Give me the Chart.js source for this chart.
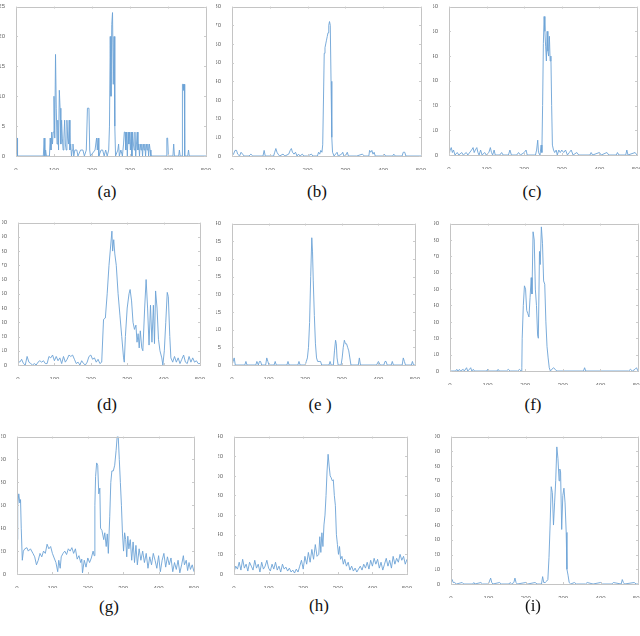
<!DOCTYPE html>
<html>
<head>
<meta charset="utf-8">
<script src="https://cdn.jsdelivr.net/npm/chart.js@4.4.1/dist/chart.umd.min.js"></script>
<style>
  html, body { margin: 0; padding: 0; background: #fff; overflow: hidden; }
  #page { position: relative; width: 640px; height: 636px; }
  .panel { position: absolute; }
  .cap { position: absolute; width: 60px; margin-left: -30px; text-align: center;
         font-family: "Liberation Serif", "DejaVu Serif", serif; font-size: 17px; color: #111; }
</style>
</head>
<body>
<div id="page"></div>
<script>
// Tick settings shared by all panels
const xTicks = [0, 100, 200, 300, 400, 500];

// (a)
const aX = [0,3,4,72,74,76,78,80,88,90,92,94,96,98,100,102,104,106,108,110,112,114,116,118,120,122,124,126,128,130,132,134,136,138,140,142,144,146,148,150,152,155,160,163,170,176,180,185,188,192,194,196,208,212,214,216,218,224,228,232,236,240,244,246,248,250,252,254,256,258,260,262,268,270,272,276,280,283,285,287,289,291,293,295,297,299,301,303,305,307,309,311,313,315,317,319,321,323,325,327,329,331,333,335,337,339,341,343,345,347,349,351,353,355,395,397,399,401,413,415,417,428,430,432,437,438,440,441,443,444,452,454,456,500];
const aY = [3,3,0,0,3,0,1,0,0,3,1,4,2,4,10,3,17,8,2,6,1,11,8,2,6,3,1,3,6,2,1,6,3,2,6,1,2,0,1,2,0,1,1,0,1,1,0,1,8,8,1,0,1,3,1,3,0,1,1,0,1,0,1,5,20,10,22,24,12,20,5,0,1,2,0,1,0,2,4,4,1,4,0,4,2,4,1,4,0,4,2,1,4,0,2,4,1,2,0,2,1,2,0,2,1,2,0,2,1,2,0,2,1,0,0,3,3,0,0,2,0,0,1,0,0,12,12,11,12,0,0,1,0,0];

// (b)
const bX = [0,4,8,12,15,20,24,28,32,45,50,55,82,85,88,110,113,116,119,122,126,135,140,150,154,157,160,164,168,172,176,180,186,190,200,210,214,226,229,232,235,238,240,242,244,246,248,250,252,254,256,258,260,262,264,266,270,278,281,290,293,296,300,305,308,330,345,350,362,364,367,370,373,376,379,400,403,406,425,428,432,450,453,457,460,500];
const bY = [0,1,3,3,1,0,2,1,0,0,1,0,0,3,0,0,2,4,2,1,0,1,0,1,3,4,2,1,2,0,1,0,1,0,0,1,0,0,2,1,3,2,6,30,55,58,60,62,64,66,70,72,70,40,10,2,0,2,0,1,2,0,0,2,0,0,1,0,0,3,2,3,1,2,0,0,1,0,0,1,0,0,2,2,0,0];

// (c)
const cX = [0,3,6,9,12,16,22,26,34,38,46,50,60,64,67,70,74,77,80,84,88,95,99,106,110,113,116,120,123,135,140,144,158,162,166,180,185,190,200,205,208,230,233,236,238,242,245,247,249,251,253,255,257,259,261,263,265,267,269,271,273,275,278,281,285,288,292,296,300,305,310,315,320,325,330,340,345,375,378,382,400,405,420,425,445,448,452,470,473,476,495,500];
const cY = [0,2,3,1,2,0,1,0,1,0,1,0,2,3,1,2,3,1,0,2,0,1,0,1,3,1,0,2,0,0,1,0,0,2,0,0,1,0,1,2,0,0,2,6,1,0,4,1,20,45,56,50,44,38,50,42,40,48,38,40,20,4,2,1,2,0,2,1,2,1,2,0,1,2,0,1,0,0,1,0,1,0,1,0,0,1,0,0,2,0,1,0];

// (d)
const dX = [0,5,10,15,20,25,30,35,40,45,50,55,60,65,70,75,80,85,90,95,100,105,110,115,120,125,130,135,140,145,150,155,160,165,170,175,180,185,190,195,200,205,210,215,220,225,230,235,240,245,250,255,258,260,263,266,270,275,280,285,290,292,295,300,305,308,312,316,320,324,327,330,333,336,340,343,348,352,356,360,364,368,372,375,378,382,386,390,395,398,402,406,410,413,417,420,425,430,435,440,445,450,455,460,465,470,475,480,485,490,495,500];
const dY = [3,2,4,1,0,6,2,1,0,1,0,2,3,2,3,1,1,6,5,7,3,6,3,5,1,6,2,4,7,6,7,4,1,2,0,3,1,0,2,6,7,4,5,2,4,1,2,32,33,50,70,85,94,80,88,78,70,50,35,20,5,2,20,40,50,53,45,30,25,28,16,22,12,24,12,10,40,60,40,14,42,16,42,15,52,40,18,10,5,0,10,30,51,48,20,5,2,6,2,5,1,4,7,2,1,6,2,5,2,3,1,1];

// (e)
const eX = [0,3,6,9,35,38,41,65,68,72,75,78,81,92,95,98,101,115,118,121,150,153,156,180,183,186,200,203,206,209,212,215,218,220,222,225,228,231,234,238,242,245,265,268,271,277,280,283,285,287,290,298,301,304,307,310,313,316,319,322,325,345,348,351,395,400,405,415,418,421,424,435,438,441,465,468,471,474,490,493,496,500];
const eY = [0,1,2,0,0,1,0,0,1,0,1,1,0,0,2,1,0,0,1,0,0,1,0,0,1,0,0,1,2,5,12,25,36,32,24,14,6,2,1,1,1,0,0,1,0,0,4,7,6,2,0,0,2,5,7,6,6,5,4,2,0,0,2,0,0,1,0,0,1,1,0,0,1,0,0,2,1,0,0,1,0,0];

// (f)
const fX = [0,15,18,21,25,28,35,38,44,47,52,55,58,62,65,98,100,102,125,128,131,150,155,160,180,185,189,191,192,195,198,201,204,207,210,213,216,218,221,224,227,230,233,235,238,240,243,246,249,252,255,258,261,264,267,275,280,284,355,358,361,475,480,485,492,496,500];
const fY = [0,0,1,0,1,0,1,0,2,0,1,2,0,1,0,0,1,0,0,1,0,0,1,0,0,1,0,2,20,40,52,50,37,35,33,45,57,47,85,80,50,40,22,20,73,65,88,78,55,53,30,15,8,2,0,2,1,0,0,2,0,0,1,0,1,2,0];

// (g)
const gX = [0,2,5,8,10,12,15,18,22,28,32,38,45,50,55,60,65,70,75,80,85,90,95,100,105,110,115,118,122,125,130,135,140,145,150,155,160,165,170,175,180,183,185,190,195,200,205,210,215,218,220,222,225,228,231,234,236,240,245,248,252,255,258,262,265,268,272,276,280,283,286,289,292,295,298,301,304,307,310,313,316,320,324,328,332,336,340,345,350,355,360,365,370,375,380,385,390,395,400,405,410,415,420,425,430,435,440,445,450,455,460,465,470,473,478,482,486,490,495,500];
const gY = [30,60,70,62,65,40,12,20,22,23,20,22,18,15,8,12,18,15,20,18,26,22,24,18,14,10,2,12,5,15,18,20,17,22,20,23,18,22,13,16,10,13,1,12,6,14,10,14,20,16,60,85,97,95,70,75,40,38,30,36,24,35,18,50,80,90,90,95,108,120,120,100,80,60,35,20,36,30,15,33,22,30,12,28,10,25,8,22,12,20,10,18,5,15,8,18,12,5,16,2,12,18,6,15,8,14,2,10,4,12,1,8,16,8,12,3,10,4,8,2];

// (h)
const hX = [0,5,10,15,20,25,30,35,40,45,50,55,60,65,70,75,80,85,90,95,100,105,110,115,120,125,130,135,140,145,150,155,160,165,170,175,180,185,190,195,200,205,210,215,220,225,230,235,240,245,248,251,254,257,260,263,266,269,272,275,278,281,284,287,290,293,296,299,302,305,308,312,316,320,325,330,335,340,345,350,355,360,365,370,375,380,385,390,395,400,405,410,415,420,425,430,435,440,445,450,455,460,465,470,475,480,485,490,495,500];
const hY = [2,8,5,12,4,15,6,10,3,12,8,4,14,6,10,2,12,5,8,14,6,3,10,5,12,4,8,2,10,5,7,3,6,2,4,1,5,2,8,14,5,18,10,22,12,25,15,30,18,20,38,22,42,28,50,60,80,105,122,110,100,98,95,96,80,70,40,30,20,28,15,18,10,15,8,12,4,8,3,6,2,5,8,4,10,6,12,5,14,8,16,10,15,6,12,4,10,16,8,14,6,18,10,16,12,20,14,18,10,15];

// (i)
const iX = [0,3,6,10,14,30,34,58,61,64,80,84,100,103,106,109,112,130,134,155,158,162,168,171,174,177,200,205,225,230,242,245,248,252,256,259,262,265,268,271,274,277,280,283,286,289,291,293,296,299,302,305,308,310,313,316,320,330,335,360,364,380,400,405,430,434,455,458,461,464,490,495,500];
const iY = [2,3,1,1,0,1,0,0,1,0,1,0,0,2,4,1,0,1,0,0,1,0,1,4,1,0,1,0,1,0,0,5,1,1,2,3,18,40,66,62,40,55,70,93,85,70,78,76,37,60,65,55,35,10,6,1,0,1,0,0,1,0,1,0,0,1,0,3,1,0,1,0,0];

const panels = [
  { id: 'a', xs: aX, ys: aY, yMax: 25,  yStep: 5,  L: 16,  R: 206, T: 5,   B: 156, capX: 107, capY: 182 },
  { id: 'b', xs: bX, ys: bY, yMax: 80,  yStep: 10, L: 232, R: 421, T: 5,   B: 156, capX: 317, capY: 182 },
  { id: 'c', xs: cX, ys: cY, yMax: 60,  yStep: 10, L: 449, R: 637, T: 5,   B: 155, capX: 532, capY: 182 },
  { id: 'd', xs: dX, ys: dY, yMax: 100, yStep: 10, L: 18,  R: 200, T: 221, B: 365, capX: 107, capY: 395 },
  { id: 'e ', xs: eX, ys: eY, yMax: 40, yStep: 5,  L: 232, R: 415, T: 222, B: 365, capX: 320, capY: 395 },
  { id: 'f', xs: fX, ys: fY, yMax: 90,  yStep: 10, L: 450, R: 638, T: 222, B: 371, capX: 533, capY: 395 },
  { id: 'g', xs: gX, ys: gY, yMax: 120, yStep: 20, L: 17,  R: 194, T: 435, B: 574, capX: 109, capY: 597 },
  { id: 'h', xs: hX, ys: hY, yMax: 140, yStep: 20, L: 234, R: 407, T: 435, B: 574, capX: 319, capY: 596 },
  { id: 'i', xs: iX, ys: iY, yMax: 100, yStep: 10, L: 451, R: 638, T: 435, B: 584, capX: 533, capY: 596 }
];

const LEFT_W = 16, TOP_P = 5, RIGHT_P = 8, BOTTOM_H = 14;

// MATLAB style box with inward ticks on all four sides
const framePlugin = {
  id: 'frame',
  afterDraw(chart) {
    const { ctx, chartArea: a, scales } = chart;
    ctx.save();
    ctx.strokeStyle = '#c4c4c4';
    ctx.lineWidth = 1;
    ctx.strokeRect(Math.round(a.left) + 0.5, Math.round(a.top) + 0.5,
                   Math.round(a.right - a.left), Math.round(a.bottom - a.top));
    ctx.strokeStyle = '#cccccc';
    ctx.beginPath();
    scales.x.ticks.forEach(t => {
      const px = Math.round(scales.x.getPixelForValue(t.value)) + 0.5;
      ctx.moveTo(px, a.bottom); ctx.lineTo(px, a.bottom - 2);
      ctx.moveTo(px, a.top); ctx.lineTo(px, a.top + 2);
    });
    scales.y.ticks.forEach(t => {
      const py = Math.round(scales.y.getPixelForValue(t.value)) + 0.5;
      ctx.moveTo(a.left, py); ctx.lineTo(a.left + 2, py);
      ctx.moveTo(a.right, py); ctx.lineTo(a.right - 2, py);
    });
    ctx.stroke();
    ctx.restore();
  }
};

const page = document.getElementById('page');

panels.forEach(p => {
  const w = (p.R - p.L) + LEFT_W + RIGHT_P;
  const h = (p.B - p.T) + TOP_P + BOTTOM_H;
  const holder = document.createElement('div');
  holder.className = 'panel';
  holder.style.left = (p.L - LEFT_W) + 'px';
  holder.style.top = (p.T - TOP_P) + 'px';
  const canvas = document.createElement('canvas');
  canvas.width = w;
  canvas.height = h;
  canvas.style.width = w + 'px';
  canvas.style.height = h + 'px';
  holder.appendChild(canvas);
  page.appendChild(holder);

  const cap = document.createElement('div');
  cap.className = 'cap';
  cap.style.left = p.capX + 'px';
  cap.style.top = p.capY + 'px';
  cap.textContent = '(' + p.id + ')';
  page.appendChild(cap);

  const points = p.xs.map((x, k) => ({ x: x, y: p.ys[k] }));

  new Chart(canvas.getContext('2d'), {
    type: 'line',
    data: {
      datasets: [{
        data: points,
        borderColor: 'rgb(108,163,214)',
        borderWidth: 0.9,
        pointRadius: 0,
        tension: 0,
        fill: false
      }]
    },
    options: {
      responsive: false,
      animation: false,
      devicePixelRatio: 1,
      layout: { padding: { left: 0, top: TOP_P, right: RIGHT_P, bottom: 0 } },
      plugins: { legend: { display: false }, tooltip: { enabled: false } },
      scales: {
        x: {
          type: 'linear', min: 0, max: 500,
          afterBuildTicks: s => { s.ticks = xTicks.map(v => ({ value: v })); },
          afterFit: s => { s.height = BOTTOM_H; },
          grid: { display: false },
          border: { display: false },
          ticks: { font: { family: 'Liberation Sans', size: 6 }, color: '#666', padding: 3, maxRotation: 0 }
        },
        y: {
          min: 0, max: p.yMax,
          afterFit: s => { s.width = LEFT_W; },
          grid: { display: false },
          border: { display: false },
          ticks: { stepSize: p.yStep, font: { family: 'Liberation Sans', size: 6 }, color: '#666', padding: 3 }
        }
      }
    },
    plugins: [framePlugin]
  });
});
</script>
</body>
</html>
